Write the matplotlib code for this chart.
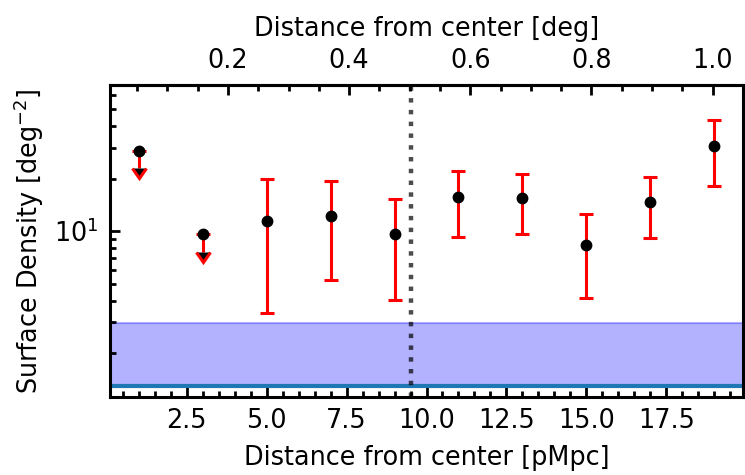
import numpy as np
import matplotlib
matplotlib.use("Agg")
import matplotlib.pyplot as plt
from matplotlib.ticker import AutoMinorLocator

# radial bins [pMpc] and surface density [deg^-2]
r = [1, 3, 5, 7, 9, 11, 13, 15, 17, 19]
dens = [28.7, 9.57, 11.46, 12.24, 9.57, 15.66, 15.4, 8.32, 14.65, 30.7]
err_lo = [5.8, 1.97, 8.08, 7.02, 5.53, 6.38, 5.8, 4.17, 5.5, 12.6]
err_hi = [0.0, 0.0, 8.34, 7.16, 5.63, 6.44, 5.9, 4.18, 5.65, 12.5]
is_ul = [True, True, False, False, False, False, False, False, False, False]

field_lo = 1.29
field_hi = 2.99
r_vir = 9.5
pmpc_per_deg = 18.95

plt.rcParams['font.size'] = 18.4

fig = plt.figure(figsize=(7.45, 4.75), dpi=100)
ax = fig.add_axes([0.1477, 0.1642, 0.8496, 0.6575])

ax.errorbar(r, dens, yerr=[err_lo, err_hi], uplims=is_ul, fmt='o', color='k',
            ms=7.5, ecolor='r', elinewidth=2.2, capsize=4.7, capthick=2.2, zorder=3)

ax.fill_between([0, 20], field_lo, field_hi, color='blue', alpha=0.3, lw=1.5)
ax.axhline(field_lo, color='tab:blue', lw=3)
ax.axvline(r_vir, color='k', ls=':', lw=3.2, alpha=0.7)

ax.set_yscale('log')
ax.set_xlim(0.1, 19.9)
ax.set_ylim(1.12, 69)
ax.xaxis.set_minor_locator(AutoMinorLocator())
ax.tick_params(which='both', direction='in', width=2, pad=8)
ax.tick_params(which='major', length=7)
ax.tick_params(which='minor', length=4.5)
for s in ax.spines.values():
    s.set_linewidth(2.2)

ax.set_xlabel('Distance from center [pMpc]', labelpad=8)
ax.set_ylabel('Surface Density [deg$^{-2}$]', labelpad=6)

top = ax.secondary_xaxis('top', functions=(lambda x: x / pmpc_per_deg,
                                           lambda d: d * pmpc_per_deg))
top.xaxis.set_minor_locator(AutoMinorLocator())
top.tick_params(which='both', direction='in', width=2, pad=8)
top.tick_params(which='major', length=7)
top.tick_params(which='minor', length=4.5)
top.spines['top'].set_linewidth(2.2)
top.set_xlabel('Distance from center [deg]', labelpad=8)

fig.savefig('out.png', dpi=100)
